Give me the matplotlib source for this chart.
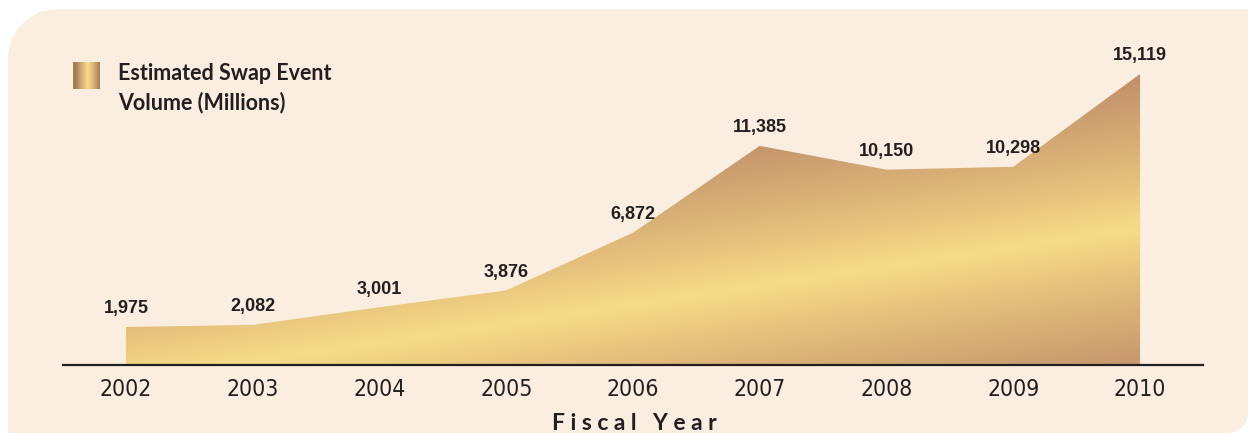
import numpy as np
import matplotlib
matplotlib.use("Agg")
import matplotlib.pyplot as plt
from matplotlib import font_manager
from matplotlib.patches import Polygon
from matplotlib.colors import LinearSegmentedColormap

years = ["2002", "2003", "2004", "2005", "2006", "2007", "2008", "2009", "2010"]
volume = [1975, 2082, 3001, 3876, 6872, 11385, 10150, 10298, 15119]
labels = ["1,975", "2,082", "3,001", "3,876", "6,872", "11,385", "10,150", "10,298", "15,119"]

W, H = 1248, 433
bg = "#fbeddf"
ink = "#231f20"
gold = LinearSegmentedColormap.from_list("gold", ["#f6dc88", "#e4c07c", "#d2a874", "#c2906a"])

# a condensed face for the year labels if one is installed
narrow = None
for f in font_manager.fontManager.ttflist:
    name = (f.fname + f.name).lower()
    if ("narrow" in name or "condensed" in name) and f.weight in (400, "normal", "regular") \
            and f.style == "normal" and "sans" in name:
        narrow = font_manager.FontProperties(fname=f.fname, size=16.5)
        break
if narrow is None:
    narrow = font_manager.FontProperties(family="Roboto", size=15.5)

fig = plt.figure(figsize=(W / 100, H / 100), dpi=100)
fig.patch.set_facecolor("white")

# cream panel in pixel coords: rounded top-left (r=50) and bottom-right (r=20)
bgax = fig.add_axes([0, 0, 1, 1], zorder=-5)
bgax.set_xlim(0, W)
bgax.set_ylim(H, 0)
bgax.axis("off")
a1 = np.linspace(np.pi, 1.5 * np.pi, 30)
a2 = np.linspace(0, 0.5 * np.pi, 20)
r1, r2 = 50, 20
pts = [(8, H)]
pts += list(zip(8 + r1 + r1 * np.cos(a1), 9 + r1 + r1 * np.sin(a1)))
pts += [(W, 9), (W, H - r2)]
pts += list(zip(W - r2 + r2 * np.cos(a2), H - r2 + r2 * np.sin(a2)))
bgax.add_patch(Polygon(pts, closed=True, facecolor=bg, edgecolor="none"))

# axes geometry in pixels
ax_l, ax_r = 62.6, 1203.4
ax_b = 365.0          # y from top of axis line
ymax = 16000
px_per_unit = 291 / 15119
ax_h = ymax * px_per_unit
ax = fig.add_axes([ax_l / W, (H - ax_b) / H, (ax_r - ax_l) / W, ax_h / H])
ax.set_facecolor("none")
ax.set_xlim(-0.5, 8.5)
ax.set_ylim(0, ymax)

x = np.arange(len(years))
poly = ax.fill_between(x, 0, volume, facecolor="none", edgecolor="none")

# diagonal gradient, light band running up to the right
nx, ny = int(ax_r - ax_l), int(ax_h)
cols = ax_l + np.arange(nx)
rows = (ax_b - ax_h) + np.arange(ny)
PX, PY = np.meshgrid(cols, rows)
band = 263 - 0.15 * (PX - 900)
t = np.clip(np.abs(PY - band) / 150.0, 0, 1)
img = ax.imshow(t, cmap=gold, vmin=0, vmax=1, extent=(-0.5, 8.5, 0, ymax),
                origin="upper", aspect="auto", interpolation="bilinear", zorder=1)
img.set_clip_path(poly.get_paths()[0], transform=ax.transData)

for s in ["top", "right", "left"]:
    ax.spines[s].set_visible(False)
ax.spines["bottom"].set_color(ink)
ax.spines["bottom"].set_linewidth(1.6)
ax.spines["bottom"].set_zorder(3)
ax.set_yticks([])
ax.set_xticks(x)
ax.set_xticklabels(years, fontproperties=narrow, color=ink)
ax.tick_params(axis="x", length=0, pad=9)

for xi, v, lab in zip(x, volume, labels):
    ax.annotate(lab, (xi, v), xytext=(0, 7), textcoords="offset points",
                ha="center", va="bottom", fontsize=13, fontweight="bold",
                family=["Liberation Sans", "DejaVu Sans"], color=ink, annotation_clip=False)

fig.text(634 / W, 1 - 423 / H, "F i s c a l   Y e a r", ha="center", va="center",
         fontsize=16.5, fontweight="bold", family=["Lato", "DejaVu Sans"], color=ink)

# legend swatch with horizontal sheen
lax = fig.add_axes([73 / W, 1 - 89 / H, 27 / W, 27 / H])
sx = np.linspace(0, 1, 60)
sheen = np.clip(np.abs(sx - 0.55) / 0.45, 0, 1)
swatch = LinearSegmentedColormap.from_list("sw", ["#f6dc88", "#d6ae76", "#a67b5a"])
lax.imshow(sheen[None, :], cmap=swatch, aspect="auto", extent=(0, 1, 0, 1))
lax.axis("off")
fig.text(118 / W, 1 - 88.5 / H, "Estimated Swap Event\nVolume (Millions)", ha="left", va="center",
         fontsize=15.5, fontweight="bold", family=["Lato", "DejaVu Sans"], color=ink,
         linespacing=1.45)

fig.savefig("out.png", dpi=100, facecolor=fig.get_facecolor())
